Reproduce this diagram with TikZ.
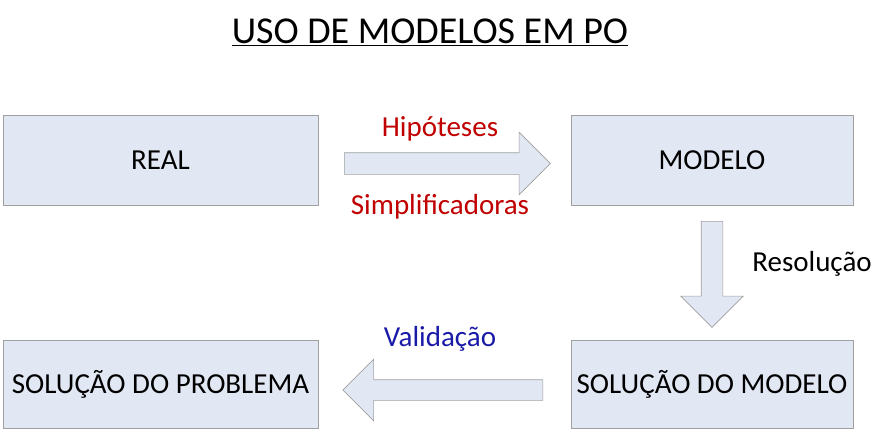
\documentclass[tikz,border=0pt]{standalone}
\usepackage{fontspec}
\setmainfont{Carlito}
\usepackage{tikz}
\usetikzlibrary{positioning, shapes.arrows}

\definecolor{boxfill}{RGB}{225,231,243}
\definecolor{boxline}{RGB}{160,160,160}
\definecolor{hipred}{RGB}{192,0,0}
\definecolor{valblue}{RGB}{26,26,168}

\tikzset{
  stage/.style={draw=boxline, fill=boxfill, line width=0.8pt, minimum height=90pt, font=\fontsize{29}{34}\selectfont, inner sep=0pt},
  bigarrow/.style={single arrow, draw=boxline, fill=boxfill, line width=0.6pt, inner sep=10.5pt, single arrow head extend=20.5pt, single arrow tip angle=90, minimum height=#1},
  lbl/.style={font=\fontsize{29}{34}\selectfont}
}

\begin{document}
\begin{tikzpicture}[x=1pt, y=-1pt]
    \useasboundingbox (0,0) rectangle (875,436);

    % Title
    \node[font=\fontsize{38}{44}\selectfont] (title) at (430,32) {\underline{USO DE MODELOS EM PO}};

    % Boxes
    \node[stage, minimum width=315pt] (real) at (160.5,160) {REAL};
    \node[stage, minimum width=282pt] (modelo) at (712,160) {MODELO};
    \node[stage, minimum width=282pt, minimum height=88pt] (solmod) at (712,384) {SOLUÇÃO DO MODELO};
    \node[stage, minimum width=315pt, minimum height=88pt] (solprob) at (160.5,384) {SOLUÇÃO DO PROBLEMA};

    % Block arrows between the boxes
    \node[bigarrow=206pt] (hip) at (442,163.5) {};
    \node[bigarrow=106pt, shape border rotate=270] (res) at (712,269) {};
    \node[bigarrow=200pt, shape border rotate=180, inner sep=10pt] (val) at (448,390) {};

    % Labels
    \node[lbl, text=hipred] (hiptxt) at (440,129) {Hipóteses};
    \node[lbl, text=hipred] (simptxt) at (440,207) {Simplificadoras};
    \node[lbl] (restxt) at (812,264) {Resolução};
    \node[lbl, text=valblue] (valtxt) at (440,339) {Validação};

\end{tikzpicture}
\end{document}
